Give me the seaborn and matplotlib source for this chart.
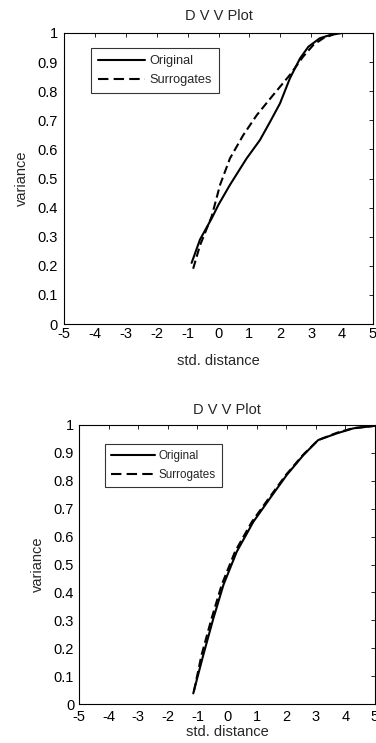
import numpy as np
import pandas as pd
import matplotlib
matplotlib.use("Agg")
import matplotlib.pyplot as plt
from matplotlib.lines import Line2D
import seaborn as sns

sns.set_style("white")
plt.rcParams['font.family'] = ['Liberation Sans', 'DejaVu Sans']

# Top panel
top_orig_x = [-0.87, -0.6, -0.22, 0.0, 0.37, 0.91, 1.34, 1.67, 1.99, 2.31, 2.64, 2.91, 3.28, 3.61, 4.0]
top_orig_y = [0.21, 0.29, 0.363, 0.41, 0.478, 0.569, 0.632, 0.695, 0.758, 0.844, 0.913, 0.953, 0.982, 0.993, 1.0]
top_surr_x = [-0.82, -0.6, -0.22, 0.05, 0.37, 0.80, 1.24, 1.77, 2.31, 2.74, 3.07, 3.39, 3.72]
top_surr_y = [0.19, 0.27, 0.37, 0.478, 0.569, 0.649, 0.718, 0.787, 0.856, 0.919, 0.959, 0.982, 0.995]

# Bottom panel
bot_orig_x = [-1.14, -0.80, -0.46, -0.12, 0.33, 0.89, 1.45, 2.02, 2.58, 3.08, 3.71, 4.27, 5.0]
bot_orig_y = [0.038, 0.176, 0.307, 0.427, 0.546, 0.653, 0.737, 0.821, 0.892, 0.946, 0.970, 0.988, 0.997]
bot_surr_x = [-1.12, -0.86, -0.52, -0.18, 0.27, 0.84, 1.41, 1.99, 2.56, 3.08, 3.71, 4.27, 5.0]
bot_surr_y = [0.045, 0.176, 0.307, 0.427, 0.546, 0.653, 0.737, 0.821, 0.892, 0.946, 0.972, 0.989, 0.997]

series_names = ["Original", "Surrogates"]
xticks = [-5, -4, -3, -2, -1, 0, 1, 2, 3, 4, 5]
yticks = [0, 0.1, 0.2, 0.3, 0.4, 0.5, 0.6, 0.7, 0.8, 0.9, 1]
ytick_labels = ["0", "0.1", "0.2", "0.3", "0.4", "0.5", "0.6", "0.7", "0.8", "0.9", "1"]

W, H = 376, 743
fig = plt.figure(figsize=(W / 100, H / 100), dpi=100)

def make_df(ox, oy, sx, sy):
    return pd.concat([
        pd.DataFrame({"x": ox, "y": oy, "s": series_names[0]}),
        pd.DataFrame({"x": sx, "y": sy, "s": series_names[1]}),
    ], ignore_index=True)

panels = [
    dict(df=make_df(top_orig_x, top_orig_y, top_surr_x, top_surr_y),
         box=[64, 33, 373, 324], leg=[91, 48], fs=10.5, lfs=9.2,
         xpad=2.5, ypad=4.5, xlp=9, ylp=6, tpad=9),
    dict(df=make_df(bot_orig_x, bot_orig_y, bot_surr_x, bot_surr_y),
         box=[79, 425, 375, 704], leg=[105, 444], fs=10.5, lfs=8.4,
         xpad=4, ypad=3.5, xlp=1, ylp=6, tpad=8),
]

for p in panels:
    l, t, r, b = p["box"]
    ll, lt = p["leg"]
    ax = fig.add_axes([l / W, 1 - b / H, (r - l) / W, (b - t) / H])
    sns.lineplot(data=p["df"], x="x", y="y", style="s", color="black", linewidth=1.5,
                 dashes={"Original": "", "Surrogates": (4, 2)},
                 estimator=None, sort=False, ax=ax, legend=False)
    ax.set_xlim(-5, 5)
    ax.set_ylim(0, 1)
    ax.set_xticks(xticks)
    ax.set_xticklabels([str(v) for v in xticks])
    ax.set_yticks(yticks)
    ax.set_yticklabels(ytick_labels)
    ax.tick_params(direction="in", length=3, width=0.6, top=True, right=True,
                   labelsize=p["fs"], color="black", labelcolor="black")
    ax.tick_params(axis="x", pad=p["xpad"])
    ax.tick_params(axis="y", pad=p["ypad"])
    for sp in ax.spines.values():
        sp.set_visible(True)
        sp.set_color("black")
        sp.set_linewidth(0.8)
    ax.set_xlabel("std. distance", fontsize=10.5, labelpad=p["xlp"])
    ax.set_ylabel("variance", fontsize=10.5, labelpad=p["ylp"])
    ax.set_title("D V V Plot", fontsize=10.5, pad=p["tpad"])
    handles = [Line2D([], [], color="black", lw=1.5),
               Line2D([], [], color="black", lw=1.5, dashes=(5, 2.5))]
    leg = ax.legend(handles, series_names, loc="upper left",
                    bbox_to_anchor=((ll - l) / (r - l), 1 - (lt - t) / (b - t)),
                    fontsize=p["lfs"], frameon=True, fancybox=False, edgecolor="black",
                    handlelength=3.7, borderpad=0.55, labelspacing=0.55, handletextpad=0.3,
                    borderaxespad=0)
    leg.get_frame().set_linewidth(0.8)

fig.savefig("out.png", dpi=100)
